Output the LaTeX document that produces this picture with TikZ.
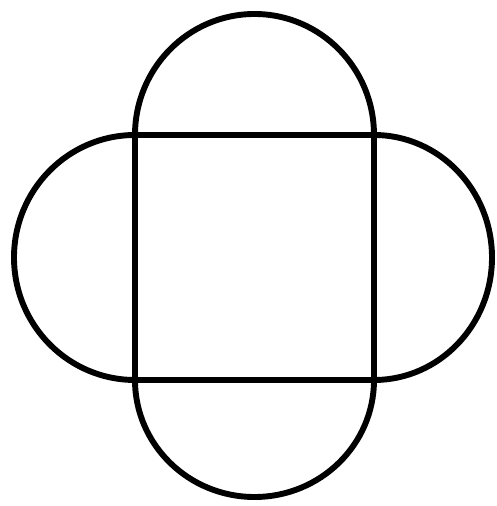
\documentclass[tikz,border=0pt]{standalone}
\usepackage{tikz}

\begin{document}
\begin{tikzpicture}[
    x=0.025cm, y=0.025cm,
    outline/.style={
        line width=4.2pt,
        draw=black,
        line join=round,
        line cap=round
    }
]

\useasboundingbox (0,0) rectangle (496,506);

\coordinate (tl) at (135,371);
\coordinate (tr) at (374,371);
\coordinate (br) at (374,126);
\coordinate (bl) at (135,126);

\draw[outline] (tl) -- (tr) -- (br) -- (bl) -- cycle;

\draw[outline] (tl) arc[start angle=180, end angle=0, x radius=119.5, y radius=121];
\draw[outline] (tr) arc[start angle=90, end angle=-90, x radius=118, y radius=122.5];
\draw[outline] (br) arc[start angle=0, end angle=-180, x radius=119.5, y radius=117];
\draw[outline] (bl) arc[start angle=270, end angle=90, x radius=121, y radius=122.5];

\end{tikzpicture}
\end{document}
